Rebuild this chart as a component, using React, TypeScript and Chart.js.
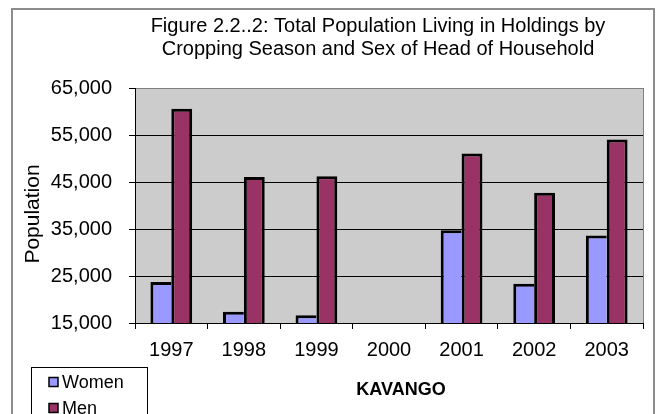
import React, { useEffect, useRef } from "react";
import { Chart, registerables } from "chart.js";

Chart.register(...registerables);

const categories = ["1997", "1998", "1999", "2000", "2001", "2002", "2003"];
const womenValues = [23700, 17400, 16650, null, 34750, 23350, 33600];
const menValues = [60600, 46050, 46250, null, 51050, 42700, 54050];
const yTicks = [15000, 25000, 35000, 45000, 55000, 65000];
const titleLines = [
  "Figure 2.2..2: Total Population Living in Holdings by",
  "Cropping Season and Sex of Head of Household",
];
const xTitle = "KAVANGO";
const yTitle = "Population";

const FONT = "'Liberation Sans', Arial, sans-serif";

const decorPlugin = {
  id: "decor",
  beforeDraw(chart: any) {
    const { ctx, chartArea } = chart;
    ctx.save();
    ctx.fillStyle = "#ffffff";
    ctx.fillRect(0, 0, chart.width, chart.height);
    // outer frame
    ctx.strokeStyle = "#8c8c8c";
    ctx.lineWidth = 2;
    ctx.strokeRect(12, 9, 642, 440);
    // plot background
    ctx.fillStyle = "#cccccc";
    ctx.fillRect(chartArea.left, chartArea.top, chartArea.right - chartArea.left, chartArea.bottom - chartArea.top);
    ctx.restore();
  },
  afterDraw(chart: any) {
    const { ctx, chartArea } = chart;
    ctx.save();
    // right plot border
    ctx.strokeStyle = "#808080";
    ctx.lineWidth = 1;
    ctx.beginPath();
    ctx.moveTo(chartArea.right + 0.5, chartArea.top);
    ctx.lineTo(chartArea.right + 0.5, chartArea.bottom);
    ctx.stroke();
    // title
    ctx.fillStyle = "#000";
    ctx.textAlign = "center";
    ctx.textBaseline = "alphabetic";
    ctx.font = `20px ${FONT}`;
    titleLines.forEach((t, i) => ctx.fillText(t, 378, 32 + i * 23));
    // x title
    ctx.font = `bold 18px ${FONT}`;
    ctx.textBaseline = "middle";
    ctx.fillText(xTitle, 401, 390);
    // y title
    ctx.save();
    ctx.translate(33, 214);
    ctx.rotate(-Math.PI / 2);
    ctx.font = `21px ${FONT}`;
    ctx.fillText(yTitle, 0, 0);
    ctx.restore();
    // legend
    ctx.strokeStyle = "#000";
    ctx.lineWidth = 1;
    ctx.fillStyle = "#fff";
    ctx.fillRect(31.5, 367.5, 116, 60);
    ctx.strokeRect(31.5, 367.5, 116, 60);
    ctx.font = `18px ${FONT}`;
    ctx.textAlign = "left";
    ctx.textBaseline = "middle";
    chart.data.datasets.forEach((ds: any, i: number) => {
      const y = 382 + i * 26;
      ctx.fillStyle = ds.backgroundColor;
      ctx.fillRect(49, y - 4.5, 9, 9);
      ctx.lineWidth = 1.5;
      ctx.strokeStyle = "#000";
      ctx.strokeRect(49, y - 4.5, 9, 9);
      ctx.fillStyle = "#000";
      ctx.fillText(ds.label, 62, y + 1);
    });
    ctx.restore();
  },
};

export default function App() {
  const ref = useRef<HTMLCanvasElement>(null);
  useEffect(() => {
    if (!ref.current) return;
    const chart = new Chart(ref.current, {
      type: "bar",
      data: {
        labels: categories,
        datasets: [
          {
            label: "Women",
            data: womenValues,
            backgroundColor: "#9999ff",
            borderColor: "#000000",
            borderWidth: { left: 3, top: 3, right: 0, bottom: 0 },
            borderSkipped: false,
          },
          {
            label: "Men",
            data: menValues,
            backgroundColor: "#993366",
            borderColor: "#000000",
            borderWidth: { left: 3, top: 3, right: 3, bottom: 0 },
            borderSkipped: false,
          },
        ],
      },
      options: {
        animation: false,
        responsive: false,
        layout: { padding: { left: 0, top: 88, right: 17, bottom: 0 } },
        datasets: { bar: { categoryPercentage: 0.575, barPercentage: 1 } },
        plugins: { legend: { display: false }, title: { display: false }, tooltip: { enabled: false } },
        scales: {
          x: {
            afterFit: (s: any) => { s.height = 91; },
            grid: { drawOnChartArea: false, drawTicks: true, tickLength: 6, color: "#000", offset: true },
            border: { display: true, color: "#000", width: 1 },
            ticks: { color: "#000", font: { family: FONT, size: 20 }, padding: 9 },
          },
          y: {
            min: 15000,
            max: 65000,
            afterFit: (s: any) => { s.width = 135; },
            afterBuildTicks: (s: any) => { s.ticks = yTicks.map((v) => ({ value: v })); },
            grid: {
              color: (c: any) => (c.tick && c.tick.value === 65000 ? "#808080" : "#000"),
              tickColor: "#000",
              tickLength: 6,
              lineWidth: 1,
            },
            border: { display: true, color: "#000", width: 1 },
            ticks: {
              color: "#000",
              font: { family: FONT, size: 20 },
              padding: 17,
              callback: (v: any) => Number(v).toLocaleString("en-US"),
            },
          },
        },
      },
      plugins: [decorPlugin],
    });
    return () => chart.destroy();
  }, []);
  return (
    <div style={{ position: "absolute", left: 0, top: 0, width: 660, height: 414 }}>
      <canvas ref={ref} width={660} height={414} style={{ display: "block" }} />
    </div>
  );
}
